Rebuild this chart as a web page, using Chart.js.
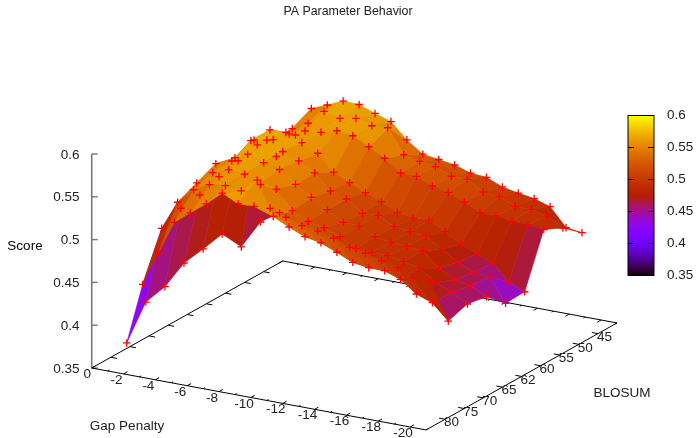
<!DOCTYPE html>
<html>
<head>
<meta charset="utf-8">
<title>PA Parameter Behavior</title>
<script src="https://cdn.jsdelivr.net/npm/chart.js@4/dist/chart.umd.min.js"></script>
<style>
  html, body { margin: 0; padding: 0; background: #fff; }
  canvas { display: block; }
</style>
</head>
<body>
<canvas id="paChart" width="697" height="438"></canvas>
<script>
var gapValues = [-1, -2, -3, -4, -5, -6, -7, -8, -9, -10, -11, -12, -13, -14, -15, -16, -17, -18, -19, -20];
var gapTicks = [0, -2, -4, -6, -8, -10, -12, -14, -16, -18, -20];
var blosumLabels = ['45', '50', '55', '60', '62', '65', '70', '75', '80'];
var scoreTicks = [0.35, 0.4, 0.45, 0.5, 0.55, 0.6];

var scores45 = [0.4224, 0.5166, 0.551, 0.5585, 0.5666, 0.566, 0.559, 0.553, 0.535, 0.5217, 0.519, 0.516, 0.51, 0.5085, 0.5007, 0.497, 0.494, 0.488, 0.467, 0.4645];
var scores50 = [0.424, 0.504, 0.54, 0.5497, 0.567, 0.5624, 0.5658, 0.5606, 0.5617, 0.5336, 0.5294, 0.5265, 0.5188, 0.5187, 0.5073, 0.5053, 0.4975, 0.4974, 0.493, 0.4825];
var scores55 = [0.4075, 0.53, 0.5396, 0.5497, 0.5566, 0.5585, 0.5638, 0.5614, 0.552, 0.542, 0.5282, 0.5278, 0.5199, 0.516, 0.5081, 0.499, 0.4987, 0.4959, 0.4954, 0.4932];
var scores60 = [0.435, 0.524, 0.5517, 0.567, 0.5675, 0.559, 0.55, 0.5315, 0.5225, 0.5143, 0.5072, 0.4982, 0.4949, 0.496, 0.4859, 0.4747, 0.4671, 0.4593, 0.441, 0.433];
var scores62 = [0.43, 0.518, 0.5435, 0.567, 0.571, 0.561, 0.5535, 0.543, 0.5253, 0.5194, 0.5061, 0.5072, 0.4974, 0.4949, 0.4934, 0.4813, 0.4696, 0.4613, 0.4596, 0.432];
var scores65 = [0.4261, 0.509, 0.549, 0.5556, 0.567, 0.5605, 0.556, 0.5422, 0.5304, 0.5194, 0.5081, 0.5072, 0.4982, 0.4951, 0.4934, 0.4918, 0.475, 0.4648, 0.4616, 0.4522];
var scores70 = [0.4109, 0.506, 0.539, 0.5545, 0.5614, 0.5595, 0.551, 0.549, 0.5273, 0.5183, 0.5143, 0.5072, 0.4967, 0.4959, 0.4954, 0.4918, 0.4879, 0.4747, 0.4664, 0.4562];
var scores75 = [0.4055, 0.495, 0.529, 0.547, 0.5564, 0.5587, 0.556, 0.572, 0.5332, 0.5242, 0.5163, 0.5127, 0.505, 0.4967, 0.4939, 0.4938, 0.4872, 0.4735, 0.4668, 0.4488];
var scores80 = [0.3702, 0.442, 0.483, 0.5215, 0.536, 0.55, 0.566, 0.557, 0.5574, 0.5585, 0.5515, 0.5451, 0.5423, 0.5373, 0.5302, 0.5266, 0.5214, 0.5167, 0.5077, 0.5089];
var scoreRows = [scores45, scores50, scores55, scores60, scores62, scores65, scores70, scores75, scores80];

var SCORE_MIN = 0.35;
var SCORE_MAX = 0.6;

// gnuplot view: gap runs to -21, the blosum axis has 0..10 slots with labels on 1..9
function project(gap, slot, score) {
    return {
        x: 91.7 + Math.abs(gap) * 15.92 + slot * 19.1,
        y: 368 + Math.abs(gap) * 2.95 - slot * 10.7 - (score - SCORE_MIN) * 856
    };
}

function slotOf(rowIndex) {
    return blosumLabels.length - rowIndex;
}

// gnuplot default pm3d palette, rgbformulae 7,5,15
function paletteColor(score) {
    var g = Math.min(1, Math.max(0, (score - SCORE_MIN) / (SCORE_MAX - SCORE_MIN)));
    var r = Math.sqrt(g);
    var gr = g * g * g;
    var b = Math.max(0, Math.sin(2 * Math.PI * g));
    return 'rgb(' + Math.round(r * 255) + ',' + Math.round(gr * 255) + ',' + Math.round(b * 255) + ')';
}

function lineSet(points, color, width, order) {
    return {
        data: points,
        showLine: true,
        fill: false,
        borderColor: color,
        borderWidth: width,
        pointRadius: 0,
        order: order
    };
}

function buildQuads() {
    var quads = [];
    for (var r = 0; r < scoreRows.length - 1; r++) {
        for (var g = 0; g < gapValues.length - 1; g++) {
            var corners = [[r, g], [r, g + 1], [r + 1, g + 1], [r + 1, g]];
            var sum = 0;
            var depth = 0;
            var points = corners.map(function (c) {
                var score = scoreRows[c[0]][c[1]];
                var base = project(gapValues[c[1]], slotOf(c[0]), SCORE_MIN);
                sum += score;
                depth += base.y * 1.732 + (score - SCORE_MIN) * 856 * 0.577;
                return project(gapValues[c[1]], slotOf(c[0]), score);
            });
            points.push(points[0]);
            quads.push({ points: points, color: paletteColor(sum / 4), depth: depth });
        }
    }
    // nearest quad first, so it gets the lowest order and lands on top
    quads.sort(function (a, b) { return b.depth - a.depth; });
    return quads;
}

function buildDatasets() {
    var sets = [];
    var crosses = [];
    scoreRows.forEach(function (row, r) {
        row.forEach(function (score, g) {
            crosses.push(project(gapValues[g], slotOf(r), score));
        });
    });
    sets.push({
        data: crosses,
        showLine: false,
        pointStyle: 'cross',
        pointRadius: 3.8,
        pointBorderColor: '#ff0000',
        pointBorderWidth: 1.3,
        order: 0
    });

    var quads = buildQuads();
    quads.forEach(function (q, i) {
        sets.push({
            data: q.points,
            showLine: true,
            fill: 'shape',
            backgroundColor: q.color,
            borderColor: q.color,
            borderWidth: 0.6,
            pointRadius: 0,
            order: i + 1
        });
    });

    var axisOrder = quads.length + 1;
    var gapEnd = -21;
    var slotEnd = 10;
    sets.push(lineSet([
        project(0, 0, SCORE_MIN), project(gapEnd, 0, SCORE_MIN), project(gapEnd, slotEnd, SCORE_MIN),
        project(0, slotEnd, SCORE_MIN), project(0, 0, SCORE_MIN)
    ], '#000', 1, axisOrder));
    sets.push(lineSet([project(0, 0, SCORE_MIN), project(0, 0, SCORE_MAX)], '#777', 1.6, axisOrder));

    // score ticks on the vertical axis
    scoreTicks.forEach(function (v) {
        var p = project(0, 0, v);
        sets.push(lineSet([p, { x: p.x + 6, y: p.y }], '#777', 1.4, axisOrder));
    });

    // gap ticks on both edges, minors on the odd values
    for (var g = 0; g <= 21; g++) {
        var size = g % 2 === 0 ? 0.2 : 0.09;
        sets.push(lineSet([project(-g, 0, SCORE_MIN), project(-g, size, SCORE_MIN)], '#000', 1, axisOrder));
        sets.push(lineSet([project(-g, slotEnd, SCORE_MIN), project(-g, slotEnd - size, SCORE_MIN)], '#000', 1, axisOrder));
    }
    // blosum ticks on both edges, labelled slots only
    for (var s = 1; s < slotEnd; s++) {
        sets.push(lineSet([project(gapEnd, s, SCORE_MIN), project(gapEnd + 0.38, s, SCORE_MIN)], '#000', 1, axisOrder));
        sets.push(lineSet([project(0, s, SCORE_MIN), project(-0.38, s, SCORE_MIN)], '#000', 1, axisOrder));
    }
    return sets;
}

var textAndBarPlugin = {
    id: 'textAndBar',
    afterDraw: function (chart) {
        var ctx = chart.ctx;
        var xs = chart.scales.x;
        var ys = chart.scales.y;

        function put(text, x, y, align, font, color) {
            ctx.font = font;
            ctx.fillStyle = color;
            ctx.textAlign = align;
            ctx.textBaseline = 'middle';
            ctx.fillText(text, xs.getPixelForValue(x), ys.getPixelForValue(y));
        }

        var tickFont = '13.5px "Liberation Sans"';
        var tickColor = '#222';

        put('PA Parameter Behavior', 348, 12, 'center', '12.4px "Liberation Sans"', tickColor);
        put('Score', 25, 246, 'center', '13.5px "Liberation Sans"', '#000');
        put('Gap Penalty', 127, 426, 'center', tickFont, tickColor);
        put('BLOSUM', 622, 393, 'center', tickFont, tickColor);

        scoreTicks.forEach(function (v) {
            var p = project(0, 0, v);
            put(String(v), 79.5, p.y + 0.8, 'right', tickFont, tickColor);
        });
        gapTicks.forEach(function (g) {
            var p = project(g, 0, SCORE_MIN);
            put(String(g), p.x + (g === 0 ? -4.4 : -7), p.y + 6.3, 'center', tickFont, tickColor);
        });
        blosumLabels.forEach(function (label, r) {
            var p = project(-21, slotOf(r), SCORE_MIN);
            put(label, p.x + 6.5, p.y + 3.5, 'center', tickFont, tickColor);
        });

        // colour box
        var left = xs.getPixelForValue(628);
        var right = xs.getPixelForValue(654);
        var top = ys.getPixelForValue(115.5);
        var bottom = ys.getPixelForValue(275.5);
        var grad = ctx.createLinearGradient(0, bottom, 0, top);
        for (var i = 0; i <= 64; i++) {
            grad.addColorStop(i / 64, paletteColor(SCORE_MIN + (SCORE_MAX - SCORE_MIN) * i / 64));
        }
        ctx.fillStyle = grad;
        ctx.fillRect(left, top, right - left, bottom - top);
        ctx.strokeStyle = '#000';
        ctx.lineWidth = 1;
        ctx.strokeRect(left, top, right - left, bottom - top);
        scoreTicks.forEach(function (v) {
            var y = bottom - (v - SCORE_MIN) / (SCORE_MAX - SCORE_MIN) * (bottom - top);
            ctx.beginPath();
            ctx.moveTo(left, y);
            ctx.lineTo(left + 6, y);
            ctx.moveTo(right - 6, y);
            ctx.lineTo(right, y);
            ctx.stroke();
            put(String(v), 667, y, 'left', tickFont, tickColor);
        });
    }
};

new Chart(document.getElementById('paChart'), {
    type: 'scatter',
    data: { datasets: buildDatasets() },
    options: {
        responsive: false,
        animation: false,
        events: [],
        layout: { padding: 0, autoPadding: false },
        plugins: {
            legend: { display: false },
            tooltip: { enabled: false }
        },
        scales: {
            x: { type: 'linear', min: 0, max: 697, display: false },
            y: { type: 'linear', min: 0, max: 438, reverse: true, display: false }
        }
    },
    plugins: [textAndBarPlugin]
});
</script>
</body>
</html>
